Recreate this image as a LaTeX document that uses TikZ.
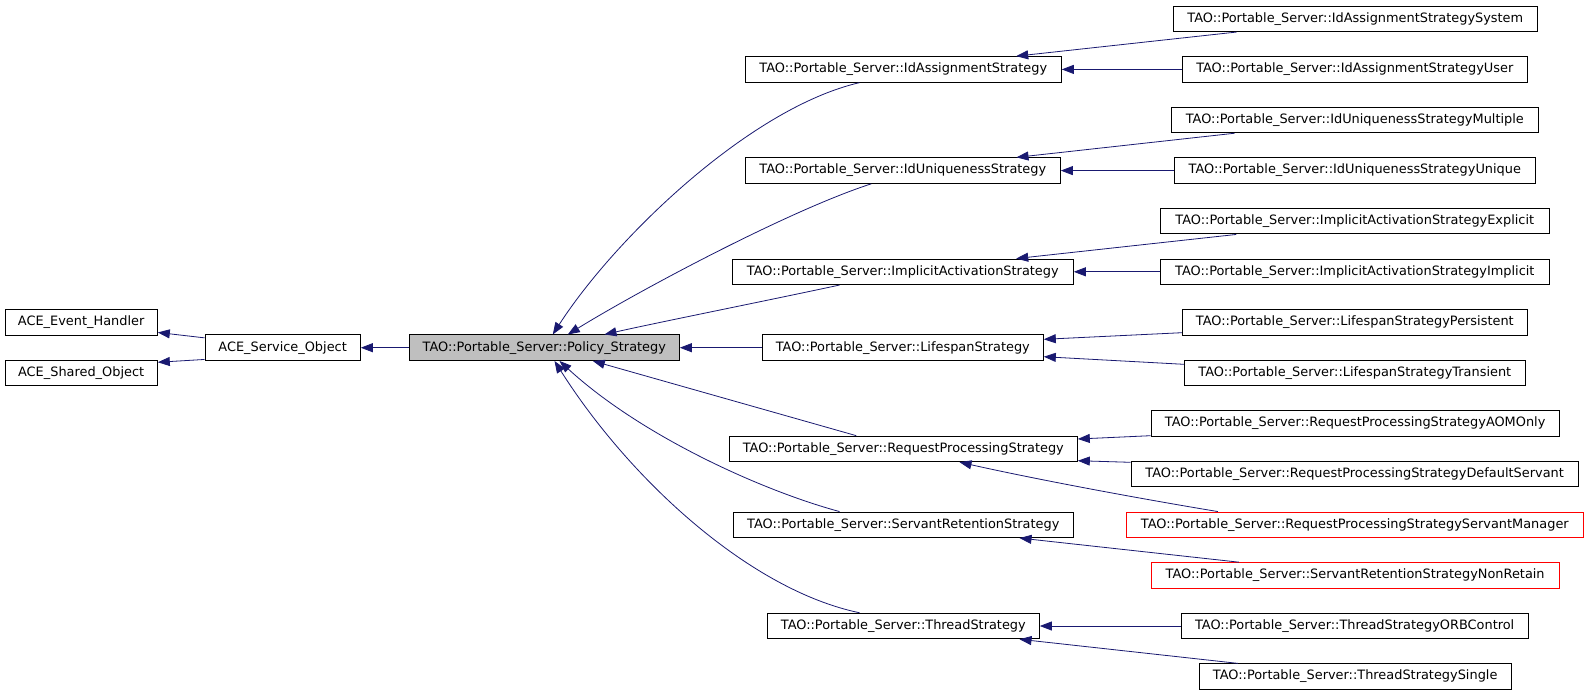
\documentclass[tikz,border=0pt]{standalone}
\usepackage{fontspec}
\setmainfont{DejaVu Sans}
\usetikzlibrary{arrows.meta,calc}
\definecolor{edgeblue}{HTML}{191970}
\definecolor{polgray}{HTML}{BFBFBF}
\begin{document}
\begin{tikzpicture}[x=1pt,y=-1pt,
  cls/.style={draw=black,line width=1pt,fill=white,minimum height=25.5pt,inner sep=0pt,font=\fontsize{12.9}{15}\selectfont},
  redcls/.style={cls,draw=red},
  inh/.style={draw=edgeblue,line width=0.8pt,{Triangle[length=12pt,width=9pt]}-}]
\useasboundingbox (0,0) rectangle (1589,696);
% left column
\node[cls,minimum width=152.3pt] (EH) at (81.15,322.4) {ACE\_Event\_Handler};
\node[cls,minimum width=152.3pt] (SO) at (81.15,373) {ACE\_Shared\_Object};
\node[cls,minimum width=155.3pt] (SvcO) at (282.65,347.7) {ACE\_Service\_Object};
\node[cls,fill=polgray,minimum width=270pt] (Pol) at (544.3,347.7) {TAO::Portable\_Server::Policy\_Strategy};
% middle column
\node[cls,minimum width=316pt] (IdA) at (903.3,69.4) {TAO::Portable\_Server::IdAssignmentStrategy};
\node[cls,minimum width=315pt] (IdU) at (902.8,170.6) {TAO::Portable\_Server::IdUniquenessStrategy};
\node[cls,minimum width=341pt] (IA) at (902.8,271.8) {TAO::Portable\_Server::ImplicitActivationStrategy};
\node[cls,minimum width=281pt] (LS) at (902.8,347.7) {TAO::Portable\_Server::LifespanStrategy};
\node[cls,minimum width=348pt] (RPS) at (903.3,448.9) {TAO::Portable\_Server::RequestProcessingStrategy};
\node[cls,minimum width=340pt] (SRS) at (903.3,524.8) {TAO::Portable\_Server::ServantRetentionStrategy};
\node[cls,minimum width=272pt] (TS) at (903.3,626) {TAO::Portable\_Server::ThreadStrategy};
% right column
\node[cls,minimum width=364pt] (Sys) at (1355.3,18.8) {TAO::Portable\_Server::IdAssignmentStrategySystem};
\node[cls,minimum width=345pt] (User) at (1354.8,69.4) {TAO::Portable\_Server::IdAssignmentStrategyUser};
\node[cls,minimum width=367pt] (Mult) at (1354.8,120) {TAO::Portable\_Server::IdUniquenessStrategyMultiple};
\node[cls,minimum width=361pt] (Uniq) at (1354.8,170.6) {TAO::Portable\_Server::IdUniquenessStrategyUnique};
\node[cls,minimum width=389pt] (Expl) at (1354.8,221.2) {TAO::Portable\_Server::ImplicitActivationStrategyExplicit};
\node[cls,minimum width=389pt] (Impl) at (1354.8,271.8) {TAO::Portable\_Server::ImplicitActivationStrategyImplicit};
\node[cls,minimum width=345pt] (Pers) at (1354.8,322.4) {TAO::Portable\_Server::LifespanStrategyPersistent};
\node[cls,minimum width=341pt] (Trans) at (1354.8,373) {TAO::Portable\_Server::LifespanStrategyTransient};
\node[cls,minimum width=408.3pt] (AOM) at (1355.15,423.6) {TAO::Portable\_Server::RequestProcessingStrategyAOMOnly};
\node[cls,minimum width=447.3pt] (DefS) at (1354.65,474.2) {TAO::Portable\_Server::RequestProcessingStrategyDefaultServant};
\node[redcls,minimum width=457pt] (SvM) at (1354.8,524.8) {TAO::Portable\_Server::RequestProcessingStrategyServantManager};
\node[redcls,minimum width=408.3pt] (NonR) at (1355.15,575.4) {TAO::Portable\_Server::ServantRetentionStrategyNonRetain};
\node[cls,minimum width=347.3pt] (ORB) at (1354.65,626) {TAO::Portable\_Server::ThreadStrategyORBControl};
\node[cls,minimum width=312.3pt] (Sing) at (1355.15,676.6) {TAO::Portable\_Server::ThreadStrategySingle};
% left edges
\draw[inh] ($(EH.south east)+(0,-3.2)$) -- ($(SvcO.north west)+(0,3.4)$);
\draw[inh] ($(SO.north east)+(0,2.5)$) -- ($(SvcO.south west)+(0,-1.5)$);
\draw[inh] (SvcO.east) -- (Pol.west);
\draw[inh] (Pol.east) -- (LS.west);
% curves into Policy_Strategy
\draw[inh] ($(Pol.north west)+(144,0)$) .. controls (615,238) and (750,108) .. ($(IdA.south west)+(114.7,0)$);
\draw[inh] ($(Pol.north west)+(159,0)$) .. controls (640,290) and (790,210) .. ($(IdU.south west)+(126.4,0)$);
\draw[inh] ($(Pol.north west)+(195.7,0)$) .. controls (660,322) and (770,300) .. ($(IA.south west)+(107.7,0)$);
\draw[inh] ($(Pol.south west)+(184,0)$) -- ($(RPS.north west)+(127.4,0)$);
\draw[inh] ($(Pol.south west)+(150.7,0)$) .. controls (640,435) and (760,490) .. ($(SRS.north west)+(106.7,0)$);
\draw[inh] ($(Pol.south west)+(145.7,0)$) .. controls (630,480) and (750,590) .. ($(TS.north west)+(92.7,0)$);
% right edges
\draw[inh] ($(IdA.north west)+(271.4,0)$) -- ($(Sys.south west)+(63.7,0)$);
\draw[inh] (IdA.east) -- (User.west);
\draw[inh] ($(IdU.north west)+(271.7,0)$) -- ($(Mult.south west)+(63.7,0)$);
\draw[inh] (IdU.east) -- (Uniq.west);
\draw[inh] ($(IA.north west)+(284.4,0)$) -- ($(Expl.south west)+(76.4,0)$);
\draw[inh] (IA.east) -- (Impl.west);
\draw[inh] ($(LS.east)+(0,-8.4)$) -- ($(Pers.west)+(0,10.3)$);
\draw[inh] ($(LS.east)+(0,9)$) -- ($(Trans.west)+(0,-8.7)$);
\draw[inh] ($(RPS.east)+(0,-9.9)$) -- ($(AOM.west)+(0,12.1)$);
\draw[inh] ($(RPS.east)+(0,11.8)$) -- ($(DefS.west)+(0,-11.9)$);
\draw[inh] ($(RPS.south west)+(230.7,0)$) .. controls (1030,478) and (1130,497) .. ($(SvM.north west)+(92,0)$);
\draw[inh] ($(SRS.south west)+(286.7,0)$) -- ($(NonR.north west)+(88.3,0)$);
\draw[inh] (TS.east) -- (ORB.west);
\draw[inh] ($(TS.south west)+(252.7,0)$) -- ($(Sing.north west)+(39.3,0)$);
\end{tikzpicture}
\end{document}
